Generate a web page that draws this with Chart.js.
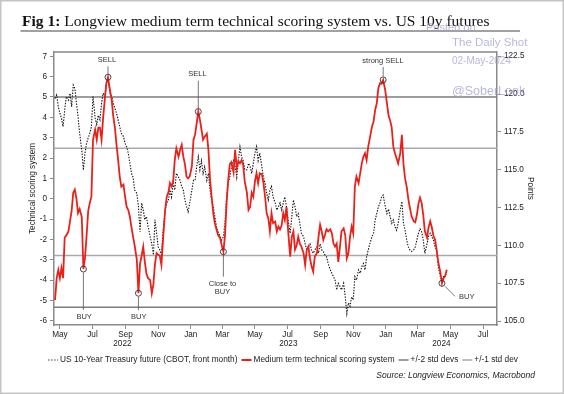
<!DOCTYPE html>
<html><head><meta charset="utf-8">
<script src="https://cdn.jsdelivr.net/npm/chart.js@4.4.1/dist/chart.umd.min.js"></script>
<style>html,body{margin:0;padding:0;background:#fff;overflow:hidden}canvas{display:block}</style>
</head><body>
<canvas id="c" width="564" height="394"></canvas>
<script>
// ---------- DATA ----------
// observation dates, as days since 1 May 2022
const dayOffsets = [
-9,-6,-3,0,3,6,9,12,16,19,
22,25,28,31,34,37,41,44,47,50,
53,56,59,62,66,69,72,75,78,81,
84,87,90,94,97,100,103,106,109,112,
115,119,122,125,128,131,134,137,140,144,
147,150,153,156,159,162,165,169,172,175,
178,181,184,187,190,193,197,200,203,206,
209,212,215,218,222,225,228,231,234,237,
240,243,247,250,253,256,259,262,265,268,
271,275,278,281,284,287,290,293,296,300,
303,306,309,312,315,318,321,325,328,331,
334,337,340,343,346,350,353,356,359,362,
365,368,371,374,378,381,384,387,390,393,
396,399,403,406,409,412,415,418,421,424,
428,431,434,437,440,443,446,449,452,456,
459,462,465,468,471,474,477,481,484,487,
490,493,496,499,502,506,509,512,515,518,
521,524,527,531,534,537,540,543,546,549,
552,555,559,562,565,568,571,574,577,580,
584,587,590,593,596,599,602,605,609,612,
615,618,621,624,627,630,633,637,640,643,
646,649,652,655,658,662,665,668,671,674,
677,680,683,687,690,693,696,699,702,705,
708,712,715,718,721,724];

// Medium term technical scoring system (left axis)
const scoreValues = [
-4.97,-3.9,-3.5,-3.9,-3.4,-3.9,-1.9,-1.8,-1.6,-1.1,
-0.6,0.3,0.45,0.0,-0.7,-0.5,-0.9,-3.45,-2.9,-1.8,
-0.6,-0.2,0.1,2.9,3.4,2.9,3.5,3.5,2.9,4.0,
4.86,5.68,5.97,5.3,4.86,4.04,3.5,2.65,1.91,1.09,
0.6,0.7,0.1,-0.4,-0.55,-0.88,-1.4,-1.86,-2.3,-3.0,
-4.64,-3.2,-2.8,-2.35,-3.1,-3.69,-3.9,-4.0,-4.64,-4.2,
-3.2,-2.67,-2.75,-2.8,-3.25,-2.02,-0.55,0.1,0.3,0.77,
0.6,0.85,1.91,2.48,2.07,2.4,2.65,2.07,1.7,1.09,
1.0,1.1,1.6,2.89,
3.15,3.71,4.28,3.9,3.4,2.9,3.05,3.2,2.4,0.93,
0.1,-0.71,-1.2,-1.5,-1.78,-1.94,-2.3,-2.6,-1.8,-0.2,
0.93,1.7,1.8,1.3,2.4,1.5,1.85,1.74,1.9,1.66,
0.84,0.3,-0.55,-0.4,0.3,0.1,0.85,1.25,0.77,1.25,
1.2,0.77,0.1,-0.71,-0.95,-1.6,-0.71,-1.2,-1.12,-1.6,
-1.36,-1.5,-1.3,-0.71,-1.04,-0.4,-1.86,-2.84,-1.86,-1.6,
-2.5,-2.3,-1.86,-2.2,-2.35,-2.67,-3.25,-2.5,-2.35,-2.92,
-3.32,-3.58,-2.84,-2.67,-1.86,-1.28,-1.6,-2.02,-1.78,-1.5,
-1.6,-1.5,-1.7,-2.2,-2.35,-2.2,-3.1,
-2.4,-1.6,-1.45,-1.78,-2.92,-2.67,-1.86,-1.37,-1.7,0.6,
1.09,0.77,1.25,1.74,2.07,2.24,1.9,2.56,2.97,3.54,
3.79,4.36,4.69,5.43,5.68,5.65,5.84,5.3,4.7,4.1,
3.85,3.5,2.56,2.24,1.99,1.74,2.24,3.14,1.7,1.0,
0.6,0.0,-0.45,-0.85,-1.1,-1.15,-0.8,-0.25,0.05,-0.2,
-0.8,-1.6,-1.9,-1.4,-1.1,-1.4,-1.82,-2.0,-2.5,-3.1,
-3.6,-4.15,-3.9,-3.8,-3.49];

// US 10-Year Treasury future, CBOT front month (right axis, points)
const futuresValues = [
119.7,119.94,119.17,118.73,118.4,117.85,118.95,119.83,119.6,120.05,
119.17,120.6,120.38,119.4,118.5,117.4,116.3,114.98,116.1,116.75,
117.1,117.4,117.85,119.83,118.4,118.0,118.6,118.3,119.4,120.05,
119.83,120.7,120.93,120.05,119.83,119.4,119.06,118.73,118.3,117.85,
117.4,117.2,116.75,116.5,116.1,115.43,114.76,114.5,113.66,113.44,
112.56,110.9,112.8,112.34,111.7,111.9,111.24,110.58,110.1,109.37,
111.7,110.8,109.9,109.7,109.37,110.9,112.34,112.8,113.0,113.66,
113.2,114.1,113.66,114.76,114.5,114.3,113.9,113.66,113.0,112.56,
112.23,112.8,113.66,114.3,
114.3,115.2,115.86,115.0,115.6,114.76,115.2,114.3,114.76,113.66,
113.0,112.56,111.9,111.24,110.9,110.58,110.36,110.58,111.46,113.2,
114.1,114.5,115.2,115.6,115.2,114.5,115.6,116.52,115.86,115.6,
115.0,115.0,115.43,115.2,114.76,115.43,116.1,116.52,115.6,116.1,
115.2,114.5,114.1,113.44,113.0,113.66,113.9,113.2,112.8,112.34,
112.56,112.8,112.34,112.8,113.2,112.56,111.46,110.8,111.9,113.0,
112.56,111.9,112.1,111.46,110.8,110.58,110.1,109.7,109.9,110.1,
109.7,109.48,109.7,109.9,109.48,110.1,109.7,109.6,109.37,109.25,
108.8,108.38,108.16,107.94,107.7,107.06,107.5,
107.3,107.06,107.5,106.6,105.5,106.2,105.98,106.6,106.4,107.93,
107.7,108.38,108.16,108.6,108.8,108.38,109.25,109.7,110.1,110.58,
110.8,111.68,112.1,112.56,112.8,113.2,113.33,112.56,112.1,112.4,
111.9,111.46,111.68,111.24,111.0,111.46,112.34,112.9,111.46,111.0,
110.36,109.9,109.7,109.6,109.7,109.9,110.36,110.8,111.1,110.9,
110.36,109.48,110.1,110.6,110.8,110.58,110.36,109.9,109.7,108.6,
107.94,107.7,107.94,108.05,108.1];

const std2Levels = [5.0, -5.33];   // +/-2 std devs
const std1Levels = [2.48, -2.78];  // +/-1 std dev

const monthTickDays   = [0,61,123,184,245,304,365,426,488,549,610,670,731,792];
const monthTickLabels = ["May","Jul","Sep","Nov","Jan","Mar","May","Jul","Sep","Nov","Jan","Mar","May","Jul"];
const yearLabels      = ["2022","2023","2024"];
const yearStartDays   = [-120,245,610,976];
const scoreTicks  = [-6,-5,-4,-3,-2,-1,0,1,2,3,4,5,6,7];
const pointsTicks = [105,107.5,110,112.5,115,117.5,120,122.5];

const signalIndex = [17,32,50,86,101,197,232];
const signalText  = [["BUY"],["SELL"],["BUY"],["SELL"],["Close to","BUY"],["strong SELL"],["BUY"]];

const legendLabels = ["US 10-Year Treasury future (CBOT, front month)","Medium term technical scoring system","+/-2 std devs","+/-1 std dev"];

// ---------- STYLE / LAYOUT ----------
const X_MIN = -11, X_MAX = 818;
const RED = '#e8221b', DARKGRAY = '#7d7d7d', LIGHTGRAY = '#a9a9a9', AXIS = '#8a8a8a';
const SANS = "'Liberation Sans', Arial, sans-serif";
const signalLayout = [
  {lead:[0,3.5,0,41],  txt:[[0.7,48]], align:'center'},
  {lead:[0,-3.5,0,-11],txt:[[-1,-17]], align:'center'},
  {lead:[0,3.5,0,17],  txt:[[0.3,24]], align:'center'},
  {lead:[0,-3.5,0,-31],txt:[[-0.8,-38]], align:'center'},
  {lead:[0,3.5,0,25],  txt:[[-0.9,32.3],[-0.9,40]], align:'center'},
  {lead:[0,-3.5,0,-13],txt:[[-0.2,-19.3]], align:'center'},
  {lead:[3,3,13,13],   txt:[[17,14]], align:'left'}
];

Chart.defaults.font.family = SANS;
Chart.defaults.font.size = 8.2;
Chart.defaults.color = '#222';

const xy = (vals) => dayOffsets.map((d,i)=>({x:d, y:vals[i]}));
const hline = (v) => [{x:X_MIN,y:v},{x:X_MAX,y:v}];

const datasets = [
  {label:'signals', type:'scatter', data: signalIndex.map(i=>({x:dayOffsets[i], y:scoreValues[i]})),
   yAxisID:'y', pointRadius:3, pointStyle:'circle', backgroundColor:'rgba(0,0,0,0)', borderColor:'#333', borderWidth:0.9, order:0},
  {label:legendLabels[1], data: xy(scoreValues), yAxisID:'y', borderColor:RED, borderWidth:1.8, pointRadius:0, tension:0, order:1},
  {label:legendLabels[0], data: xy(futuresValues), yAxisID:'y2', borderColor:'#111', borderWidth:1.1, borderDash:[1.4,1.4], pointRadius:0, tension:0, order:2},
];
std2Levels.forEach(v=>datasets.push({label:legendLabels[2], data:hline(v), yAxisID:'y', borderColor:DARKGRAY, borderWidth:1.5, pointRadius:0, order:3}));
std1Levels.forEach(v=>datasets.push({label:legendLabels[3], data:hline(v), yAxisID:'y', borderColor:LIGHTGRAY, borderWidth:1.5, pointRadius:0, order:3}));

const decor = {
  id:'decor',
  beforeDraw(chart){
    const c = chart.ctx; c.save(); c.fillStyle='#fff'; c.fillRect(0,0,chart.width,chart.height); c.restore();
  },
  afterDraw(chart){
    const c = chart.ctx, a = chart.chartArea, xs = chart.scales.x;
    c.save();
    // frame top
    c.strokeStyle = AXIS; c.lineWidth = 1.5;
    c.beginPath(); c.moveTo(a.left, a.top); c.lineTo(a.right, a.top); c.stroke();
    // outer border
    c.strokeStyle = '#c4c4c4'; c.lineWidth = 1.5; c.strokeRect(0.75,0.75,chart.width-1.5,chart.height-1.5);

    // title
    const t1 = 'Fig 1: ', t2 = 'Longview medium term technical scoring system vs. US 10y futures';
    let fs = 16;
    c.font = `bold ${fs}px 'Liberation Serif', serif`; let w1 = c.measureText(t1).width;
    c.font = `${fs}px 'Liberation Serif', serif`; let w2 = c.measureText(t2).width;
    fs = fs * 468 / (w1 + w2);
    c.fillStyle = '#111'; c.textBaseline = 'alphabetic'; c.textAlign = 'left';
    c.font = `bold ${fs}px 'Liberation Serif', serif`; w1 = c.measureText(t1).width;
    c.fillText(t1, 22, 26);
    c.font = `${fs}px 'Liberation Serif', serif`;
    c.fillText(t2, 22 + w1, 26);
    c.strokeStyle = '#444'; c.lineWidth = 1.2;
    c.beginPath(); c.moveTo(20.5, 31); c.lineTo(520, 31); c.stroke();

    // watermark
    c.fillStyle = 'rgba(160,160,205,0.75)'; c.textBaseline = 'middle'; c.textAlign = 'left';
    c.font = `11px ${SANS}`; c.fillText('Posted on', 426, 27.5);
    c.font = `11.5px ${SANS}`; c.fillText('The Daily Shot', 452, 43);
    c.font = `10px ${SANS}`; c.fillText('02-May-2024', 452, 61);
    c.font = `12.5px ${SANS}`; c.fillText('@SoberLook', 452, 91.5);

    // axis titles
    c.fillStyle = '#222'; c.font = `8.2px ${SANS}`; c.textAlign = 'center'; c.textBaseline = 'middle';
    c.save(); c.translate(33, (a.top + a.bottom)/2); c.rotate(-Math.PI/2); c.fillText('Technical scoring system', 0, 0); c.restore();
    c.save(); c.translate(530, (a.top + a.bottom)/2); c.rotate(Math.PI/2); c.fillText('Points', 0, 0); c.restore();

    // year labels centred on the visible part of each year
    c.textAlign = 'center'; c.textBaseline = 'middle';
    yearLabels.forEach((lab,i)=>{
      const s = Math.max(yearStartDays[i], xs.min), e = Math.min(yearStartDays[i+1], xs.max);
      c.fillText(lab, xs.getPixelForValue((s+e)/2), 343.5);
    });

    // signal annotations
    const meta = chart.getDatasetMeta(0);
    c.strokeStyle = '#555'; c.lineWidth = 0.8; c.fillStyle = '#333'; c.font = `7.5px ${SANS}`;
    meta.data.forEach((p,i)=>{
      const L = signalLayout[i];
      c.beginPath(); c.moveTo(p.x+L.lead[0], p.y+L.lead[1]); c.lineTo(p.x+L.lead[2], p.y+L.lead[3]); c.stroke();
      c.textAlign = L.align;
      signalText[i].forEach((s,k)=>c.fillText(s, p.x+L.txt[k][0], p.y+L.txt[k][1]));
    });

    // legend
    c.font = `8.3px ${SANS}`; c.textBaseline = 'middle'; c.textAlign = 'left';
    const samples = [
      {color:'#333', w:1.2, dash:[1.4,1.6]},
      {color:RED, w:2, dash:[]},
      {color:DARKGRAY, w:1.5, dash:[]},
      {color:LIGHTGRAY, w:1.5, dash:[]}
    ];
    const sw = 10, g1 = 2, g2 = 4;
    let total = 0;
    legendLabels.forEach((l,i)=>{ total += sw + g1 + c.measureText(l).width + (i<3?g2:0); });
    let x = 283 - total/2; const ly = 360;
    legendLabels.forEach((l,i)=>{
      const s = samples[i];
      c.strokeStyle = s.color; c.lineWidth = s.w; c.setLineDash(s.dash);
      c.beginPath(); c.moveTo(x, ly); c.lineTo(x+sw, ly); c.stroke(); c.setLineDash([]);
      x += sw + g1; c.fillStyle = '#222'; c.fillText(l, x, ly);
      x += c.measureText(l).width + g2;
    });

    // source
    c.font = `italic 8.5px ${SANS}`; c.textAlign = 'right'; c.fillStyle = '#222';
    c.fillText('Source: Longview Economics, Macrobond', 535, 376);
    c.restore();
  }
};

new Chart(document.getElementById('c'), {
  type:'line',
  data:{datasets},
  options:{
    responsive:false, animation:false, devicePixelRatio:1,
    layout:{padding:{top:52,left:0,right:0,bottom:0}},
    plugins:{legend:{display:false}, tooltip:{enabled:false}},
    scales:{
      x:{type:'linear', min:X_MIN, max:X_MAX,
        afterBuildTicks:s=>{ s.ticks = monthTickDays.map(v=>({value:v})); },
        afterFit:s=>{ s.height = 69; },
        ticks:{autoSkip:false, maxRotation:0, padding:1, callback:(v,i)=>monthTickLabels[i]},
        grid:{drawOnChartArea:false, tickLength:4, color:AXIS, lineWidth:1},
        border:{color:AXIS, width:1.5}},
      y:{position:'left', min:-6.2, max:7.21,
        afterBuildTicks:s=>{ s.ticks = scoreTicks.map(v=>({value:v})); },
        afterFit:s=>{ s.width = 54; },
        ticks:{padding:3, callback:v=>String(v)},
        grid:{drawOnChartArea:false, tickLength:4, color:AXIS, lineWidth:1},
        border:{color:AXIS, width:1.5}},
      y2:{position:'right', min:104.74, max:122.78,
        afterBuildTicks:s=>{ s.ticks = pointsTicks.map(v=>({value:v})); },
        afterFit:s=>{ s.width = 67; },
        ticks:{padding:3, callback:v=>Number(v).toFixed(1)},
        grid:{drawOnChartArea:false, tickLength:4, color:AXIS, lineWidth:1},
        border:{color:AXIS, width:1.5}}
    }
  },
  plugins:[decor]
});
</script>
</body></html>
